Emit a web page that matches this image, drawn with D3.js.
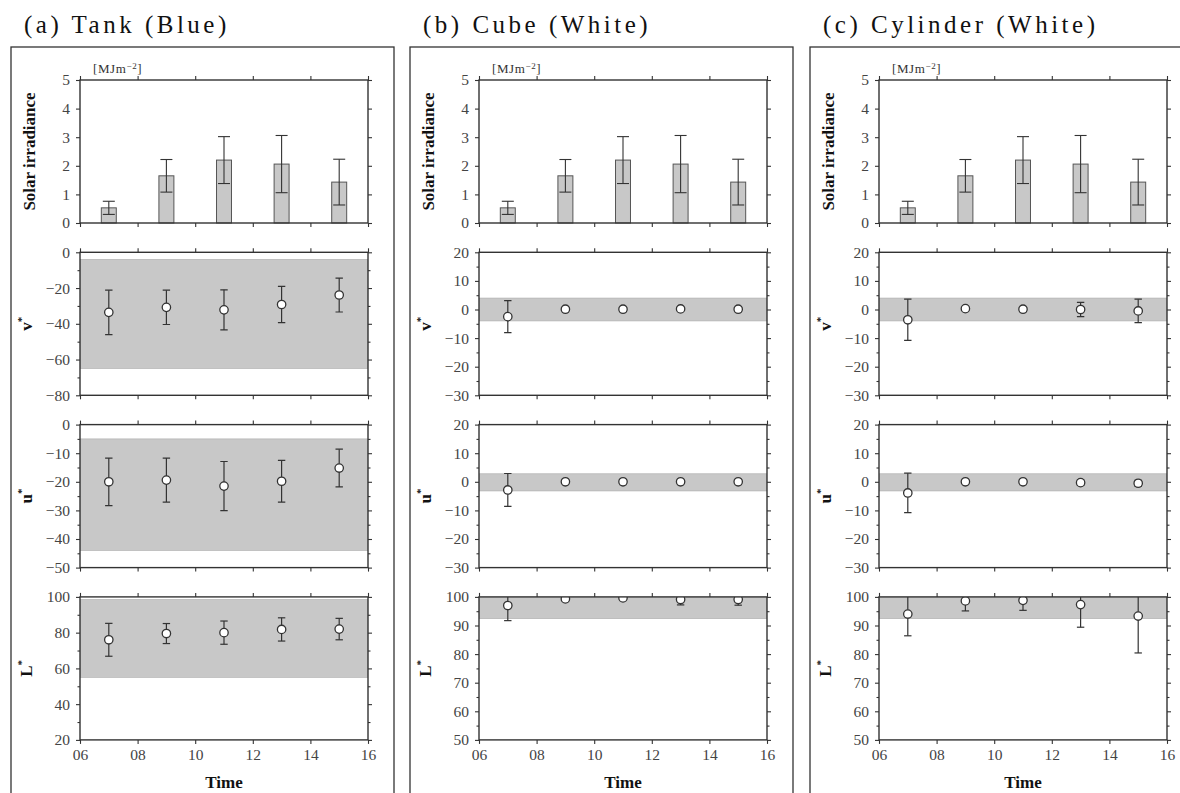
<!DOCTYPE html>
<html>
<head>
<meta charset="utf-8">
<script src="https://cdn.jsdelivr.net/npm/d3@7"></script>
<style>
  body { margin: 0; background: #fff; }
  svg, svg text { font-family: "Liberation Serif", "Times New Roman", "DejaVu Serif", serif; }
</style>
</head>
<body>
<div class="canvas"></div>
<script>
// ---- data ----
const hours = [7, 9, 11, 13, 15];
const panelTitles = ["(a) Tank (Blue)", "(b) Cube (White)", "(c) Cylinder (White)"];

// solar irradiance, same for all three objects [MJ m-2]
const solarMean = [0.53, 1.65, 2.2, 2.06, 1.43];
const solarSd = [0.23, 0.57, 0.82, 1.0, 0.8];

// v*
const tankV = [-33.6, -30.8, -32.2, -29.2, -23.9];
const tankVSd = [12.4, 9.6, 11.2, 10.1, 9.5];
const cubeV = [-2.5, 0.1, 0.1, 0.2, 0.1];
const cubeVSd = [5.6, 0.2, 0.2, 0.5, 0.6];
const cylV = [-3.6, 0.3, 0.1, 0.0, -0.5];
const cylVSd = [7.2, 0.3, 0.2, 2.5, 4.1];

// u*
const tankU = [-20.0, -19.4, -21.5, -19.8, -15.2];
const tankUSd = [8.3, 7.7, 8.6, 7.3, 6.6];
const cubeU = [-2.85, 0.0, 0.0, 0.0, 0.0];
const cubeUSd = [5.75, 0.2, 0.2, 0.2, 0.2];
const cylU = [-3.9, 0.0, 0.0, -0.3, -0.5];
const cylUSd = [6.9, 0.3, 0.2, 1.0, 1.0];

// L*
const tankL = [76.0, 79.5, 80.0, 81.8, 82.0];
const tankLSd = [9.2, 5.6, 6.5, 6.5, 6.0];
const cubeL = [97.0, 99.3, 99.65, 99.1, 99.1];
const cubeLSd = [5.3, 0.7, 0.3, 1.9, 2.0];
const cylL = [94.0, 98.6, 98.8, 97.3, 93.3];
const cylLSd = [7.6, 3.5, 3.5, 7.9, 12.9];

// shaded reference ranges [low, high] per object
const vBand = [[-65, -4], [-4, 4], [-4, 4]];
const uBand = [[-44, -5], [-3.2, 2.8], [-3.2, 2.8]];
const lBand = [[55, 98.5], [92.4, 100], [92.4, 100]];

// axis ranges and major tick steps
const solarDomain = [0, 5];
const vDomain = [[-80, 0], [-30, 20], [-30, 20]];
const uDomain = [[-50, 0], [-30, 20], [-30, 20]];
const lDomain = [[20, 100], [50, 100], [50, 100]];
const vStep = [20, 10, 10];
const uStep = [10, 10, 10];
const lStep = [20, 10, 10];
const timeTicks = [6, 8, 10, 12, 14, 16];

const meanV = [tankV, cubeV, cylV], sdV = [tankVSd, cubeVSd, cylVSd];
const meanU = [tankU, cubeU, cylU], sdU = [tankUSd, cubeUSd, cylUSd];
const meanL = [tankL, cubeL, cylL], sdL = [tankLSd, cubeLSd, cylLSd];

// ---- layout ----
const width = 1180, height = 793;
const boxLeft = [11, 410, 810];
const plotW = 288, plotH = 143, rowStep = 172.3, firstTop = 80;
const grey = "#c8c8c8", ink = "#333", tickInk = "#444";
const serif = "Liberation Serif, Times New Roman, serif";

const svg = d3.select(".canvas").append("svg")
  .attr("width", width).attr("height", height)
  .attr("viewBox", [0, 0, width, height])
  .attr("font-family", serif);

let clipId = 0;

function axes(g, x, y, step, showX, minor) {
  const [d0, d1] = y.domain();
  const majors = d3.range(d0, d1 + 1e-9, step);
  const minors = minor ? d3.range(d0 + step / 2, d1, step) : [];
  const [x0, x1] = x.range();
  const [yb, yt] = y.range();
  const styleTicks = s => {
    s.attr("font-family", serif).attr("font-size", 15.5);
    s.select(".domain").remove();
    s.selectAll("line").attr("stroke", ink).attr("stroke-width", 1.1);
    s.selectAll("text").attr("fill", tickInk);
  };
  g.append("g").attr("transform", `translate(${x0},0)`)
    .call(d3.axisLeft(y).tickValues(majors).tickFormat(d3.format("d"))
      .tickSize(4).tickPadding(6).tickSizeOuter(0)).call(styleTicks);
  g.append("g").attr("transform", `translate(${x0},0)`)
    .call(d3.axisLeft(y).tickValues(minors).tickSize(2.5).tickFormat("").tickSizeOuter(0)).call(styleTicks);
  g.append("g").attr("transform", `translate(${x1},0)`)
    .call(d3.axisRight(y).tickValues(majors).tickSize(4).tickFormat("").tickSizeOuter(0)).call(styleTicks);
  g.append("g").attr("transform", `translate(${x1},0)`)
    .call(d3.axisRight(y).tickValues(minors).tickSize(2.5).tickFormat("").tickSizeOuter(0)).call(styleTicks);
  g.append("g").attr("transform", `translate(0,${yt})`)
    .call(d3.axisTop(x).tickValues(timeTicks).tickSize(4).tickFormat("").tickSizeOuter(0)).call(styleTicks);
  g.append("g").attr("transform", `translate(0,${yb})`)
    .call(d3.axisBottom(x).tickValues(timeTicks).tickSize(4).tickPadding(5).tickSizeOuter(0)
      .tickFormat(showX ? d3.format("02d") : "")).call(styleTicks);
  // frame
  g.append("rect").attr("x", x0).attr("y", yt).attr("width", x1 - x0).attr("height", yb - yt)
    .attr("fill", "none").attr("stroke", ink).attr("stroke-width", 1.4);
}

function yLabel(g, x, y, main, star) {
  const t = g.append("text")
    .attr("transform", `translate(${x},${(y.range()[0] + y.range()[1]) / 2}) rotate(-90)`)
    .attr("text-anchor", "middle").attr("font-weight", "bold").attr("font-size", 17).attr("fill", "#111");
  t.append("tspan").text(main);
  if (star) t.append("tspan").attr("dy", -7).attr("font-size", 11).text("*");
}

function pointPanel(g, x, y, band, means, sds) {
  const id = "clip" + (clipId++);
  const [x0, x1] = x.range(), [yb, yt] = y.range();
  g.append("clipPath").attr("id", id).append("rect")
    .attr("x", x0).attr("y", yt).attr("width", x1 - x0).attr("height", yb - yt);
  const c = g.append("g").attr("clip-path", `url(#${id})`);
  c.append("rect").attr("x", x0).attr("width", x1 - x0)
    .attr("y", y(band[1])).attr("height", y(band[0]) - y(band[1]))
    .attr("fill", grey).attr("stroke", "#aaa").attr("stroke-width", 0.6);
  const pts = hours.map((h, i) => ({ h, m: means[i], s: sds[i] }));
  const e = c.selectAll("g.err").data(pts).join("g").attr("class", "err")
    .attr("stroke", ink).attr("stroke-width", 1.2);
  e.append("line").attr("x1", d => x(d.h)).attr("x2", d => x(d.h))
    .attr("y1", d => y(d.m + d.s)).attr("y2", d => y(d.m - d.s));
  [1, -1].forEach(k => e.append("line")
    .attr("x1", d => x(d.h) - 3.7).attr("x2", d => x(d.h) + 3.7)
    .attr("y1", d => y(d.m + k * d.s)).attr("y2", d => y(d.m + k * d.s)));
  c.selectAll("circle").data(pts).join("circle")
    .attr("cx", d => x(d.h)).attr("cy", d => y(d.m)).attr("r", 4.2)
    .attr("fill", "#fff").attr("stroke", ink).attr("stroke-width", 1.3);
}

panelTitles.forEach((title, p) => {
  const bx = boxLeft[p];
  const left = bx + 69;
  const g = svg.append("g");

  g.append("text").attr("x", bx + 13).attr("y", 33).attr("font-size", 25)
    .attr("letter-spacing", 3.5).attr("fill", "#111").text(title);
  g.append("rect").attr("x", bx).attr("y", 47).attr("width", 383).attr("height", 800)
    .attr("fill", "none").attr("stroke", ink).attr("stroke-width", 1.3);

  const x = d3.scaleLinear([6, 16], [left, left + plotW]);
  const rowY = (r, dom) => d3.scaleLinear(dom, [firstTop + r * rowStep + plotH, firstTop + r * rowStep]);

  // solar irradiance bars
  const ys = rowY(0, solarDomain);
  const sol = hours.map((h, i) => ({ h, m: solarMean[i], s: solarSd[i] }));
  g.selectAll("rect.bar").data(sol).join("rect").attr("class", "bar")
    .attr("x", d => x(d.h - 0.26)).attr("width", d => x(d.h + 0.26) - x(d.h - 0.26))
    .attr("y", d => ys(d.m)).attr("height", d => ys(0) - ys(d.m))
    .attr("fill", grey).attr("stroke", "#555").attr("stroke-width", 1);
  const se = g.selectAll("g.serr").data(sol).join("g").attr("class", "serr")
    .attr("stroke", ink).attr("stroke-width", 1.1);
  se.append("line").attr("x1", d => x(d.h)).attr("x2", d => x(d.h))
    .attr("y1", d => ys(d.m + d.s)).attr("y2", d => ys(d.m - d.s));
  [1, -1].forEach(k => se.append("line")
    .attr("x1", d => x(d.h) - 6).attr("x2", d => x(d.h) + 6)
    .attr("y1", d => ys(d.m + k * d.s)).attr("y2", d => ys(d.m + k * d.s)));
  axes(g, x, ys, 1, false, false);
  yLabel(g, left - 45, ys, "Solar irradiance", false);
  const unit = g.append("text").attr("x", left + 13).attr("y", 73).attr("font-size", 13)
    .attr("letter-spacing", 0.6).attr("fill", "#333");
  unit.append("tspan").text("[MJm");
  unit.append("tspan").attr("dy", -4).attr("font-size", 9).text("−2");
  unit.append("tspan").attr("dy", 4).text("]");

  // v*
  const yv = rowY(1, vDomain[p]);
  pointPanel(g, x, yv, vBand[p], meanV[p], sdV[p]);
  axes(g, x, yv, vStep[p], false, true);
  yLabel(g, left - 48, yv, "v", true);

  // u*
  const yu = rowY(2, uDomain[p]);
  pointPanel(g, x, yu, uBand[p], meanU[p], sdU[p]);
  axes(g, x, yu, uStep[p], false, true);
  yLabel(g, left - 48, yu, "u", true);

  // L*
  const yl = rowY(3, lDomain[p]);
  pointPanel(g, x, yl, lBand[p], meanL[p], sdL[p]);
  axes(g, x, yl, lStep[p], true, true);
  yLabel(g, left - 48, yl, "L", true);

  g.append("text").attr("x", left + plotW / 2).attr("y", 788).attr("text-anchor", "middle")
    .attr("font-weight", "bold").attr("font-size", 17).attr("fill", "#111").text("Time");
});
</script>
</body>
</html>
